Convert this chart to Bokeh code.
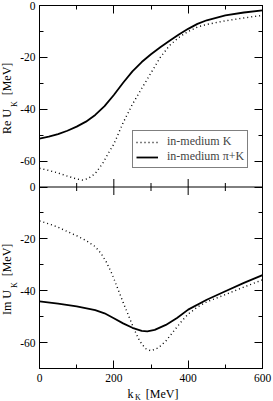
import math
from bokeh.plotting import figure
from bokeh.core.properties import value
from bokeh.models import (Range1d, LinearAxis, FixedTicker, Span, GridBox,
                          Legend, LegendItem)
from bokeh.embed import file_html
from bokeh.resources import INLINE

# ---------------- data ----------------
# upper panel: Re U_K
k_re_K = [0, 25, 50, 75, 100, 115, 130, 150, 170, 185, 200, 225, 250, 275,
          300, 325, 350, 375, 400, 425, 450, 500, 550, 600]
re_K = [-62.8, -63.6, -64.6, -65.8, -66.9, -67.3, -66.8, -64.8, -60.9, -57.0,
        -53.5, -45.2, -38.1, -32.0, -26.0, -20.0, -15.4, -12.3, -10.0, -8.3,
        -7.3, -5.9, -4.8, -3.8]

k_re_piK = [0, 25, 50, 75, 100, 125, 150, 175, 200, 225, 250, 275, 300, 325,
            350, 375, 400, 425, 450, 500, 550, 600]
re_piK = [-51.3, -50.6, -49.6, -48.3, -46.7, -44.8, -42.2, -38.8, -34.5,
          -29.8, -25.4, -21.8, -18.8, -16.1, -13.6, -11.2, -9.0, -7.1, -5.7,
          -3.8, -2.7, -1.9]

# lower panel: Im U_K
k_im_K = [0, 25, 50, 75, 100, 125, 150, 165, 180, 195, 210, 225, 240, 255,
          270, 285, 300, 320, 340, 360, 380, 400, 425, 450, 500, 550, 600]
im_K = [-13.1, -14.2, -15.5, -17.2, -18.8, -20.6, -23.0, -25.5, -29.0, -33.5,
        -39.0, -44.5, -49.8, -55.0, -59.5, -62.3, -63.2, -62.0, -59.4, -55.8,
        -52.2, -49.0, -46.3, -44.3, -41.5, -38.6, -35.8]

k_im_piK = [0, 50, 100, 150, 175, 200, 225, 250, 275, 290, 310, 340, 370,
            400, 450, 500, 550, 600]
im_piK = [-44.1, -45.0, -46.0, -47.5, -48.7, -50.6, -52.6, -54.3, -55.5,
          -55.7, -55.1, -53.2, -50.5, -47.3, -43.5, -40.2, -37.0, -34.0]

legend_labels = ["in-medium K", "in-medium \u03c0+K"]
y_titles = ["Re U", "Im U"]
x_title = "k"
sub = "K"
unit = "[MeV]"

x_major = [0, 200, 400, 600]
x_minor = [100, 300, 500]
y_major = [0, -20, -40, -60]
y_labels = ["0", "-20", "-40", "-60"]
y_minor = [-10, -30, -50]
panel_span = 70  # each panel covers -70 .. 0

# ---------------- layout (page pixels) ----------------
PW, PH = 273, 401
L, R, T, B = 39, 262, 5, 368   # frame edges on the page
SERIF = "Liberation Serif"

p = figure(width=PW, height=PH, output_backend="svg", toolbar_location=None,
           x_range=Range1d(0, 600), y_range=Range1d(-2 * panel_span, 0),
           x_axis_location=None, y_axis_location=None,
           min_border_left=L, min_border_right=PW - R,
           min_border_top=T, min_border_bottom=PH - B,
           background_fill_color="white", border_fill_color="white",
           outline_line_color="black", outline_line_width=1)
p.frame_align = False
p.xgrid.visible = False
p.ygrid.visible = False
p.extra_y_ranges = {"im": Range1d(-panel_span, panel_span)}

px_per_y = (B - T) / (2.0 * panel_span)

ymaj_all = y_major + [v - panel_span for v in y_major]
ymin_all = y_minor + [v - panel_span for v in y_minor]
overrides = {v: s for v, s in zip(y_major, y_labels)}
overrides.update({v - panel_span: s for v, s in zip(y_major, y_labels)})

common = dict(major_tick_in=8, major_tick_out=0, minor_tick_in=4,
              minor_tick_out=0, axis_line_color="black",
              major_tick_line_color="black", minor_tick_line_color="black",
              major_label_text_font=SERIF, major_label_text_font_size="11.5px",
              major_label_text_color="black")

left = LinearAxis(ticker=FixedTicker(ticks=ymaj_all, minor_ticks=ymin_all),
                  major_label_overrides=overrides, major_label_standoff=4,
                  **common)
p.add_layout(left, "left")
right = LinearAxis(ticker=FixedTicker(ticks=ymaj_all, minor_ticks=ymin_all),
                   major_label_overrides={v: "" for v in ymaj_all},
                   major_label_standoff=0, **common)
p.add_layout(right, "right")
bottom = LinearAxis(ticker=FixedTicker(ticks=x_major, minor_ticks=x_minor),
                    major_label_standoff=5, **common)
p.add_layout(bottom, "below")
top = LinearAxis(ticker=FixedTicker(ticks=x_major, minor_ticks=x_minor),
                 major_label_overrides={v: "" for v in x_major},
                 major_label_standoff=0, **common)
p.add_layout(top, "above")

# boundary between the two panels
p.add_layout(Span(location=-panel_span, dimension="width",
                  line_color="black", line_width=1))
p.segment(x0=x_major, x1=x_major, y0=-panel_span - 8 / px_per_y,
          y1=-panel_span + 8 / px_per_y, line_color="black", line_width=1)
p.segment(x0=x_minor, x1=x_minor, y0=-panel_span - 4 / px_per_y,
          y1=-panel_span + 4 / px_per_y, line_color="black", line_width=1)

# curves
r1 = p.line(k_re_K, re_K, line_color="black", line_width=1.4,
            line_dash="1 3")
r2 = p.line(k_re_piK, re_piK, line_color="black", line_width=1.8)
p.line(k_im_K, im_K, line_color="black", line_width=1.4, line_dash="1 3",
       y_range_name="im")
p.line(k_im_piK, im_piK, line_color="black", line_width=1.8,
       y_range_name="im")

legend = Legend(items=[LegendItem(label=legend_labels[0], renderers=[r1]),
                       LegendItem(label=legend_labels[1], renderers=[r2])],
                location=(132 - L, B - 168),
                border_line_color="black", border_line_width=1,
                background_fill_color="white", background_fill_alpha=1,
                label_text_font=SERIF, label_text_font_size="12px",
                glyph_width=22, glyph_height=10, label_height=10,
                label_standoff=9, padding=3, spacing=0, margin=0)
p.add_layout(legend)

# ---------------- transparent overlay figure holding the axis titles -------
bg = figure(width=PW, height=PH, output_backend="svg", toolbar_location=None,
            x_range=Range1d(0, PW), y_range=Range1d(-PH, 0),
            x_axis_location=None, y_axis_location=None, min_border=0,
            outline_line_color=None, background_fill_alpha=0,
            border_fill_alpha=0)
bg.frame_align = False
bg.xgrid.visible = False
bg.ygrid.visible = False


def put(x, y, text, size, angle=0.0):
    bg.text(x=[x], y=[-y], text=[text], angle=angle, text_align="center",
            text_baseline="middle", text_color="black",
            text_font=value(SERIF), text_font_size=value(size))


A = math.pi / 2
for name, shift in zip(y_titles, (0, 181)):
    put(6.4, 121 + shift, name, "12px", angle=A)
    put(13.6, 103.5 + shift, sub, "8px", angle=A)
    put(6.4, 78.5 + shift, unit, "12px", angle=A)

put(130, 393, x_title, "12px")
put(137.3, 396.5, sub, "8px")
put(161.7, 393, unit, "12px")

layout = GridBox(children=[(p, 0, 0), (bg, 0, 0)])
layout.margin = (0, 0, 0, 0)

open("out.html", "w").write(file_html(layout, INLINE))
